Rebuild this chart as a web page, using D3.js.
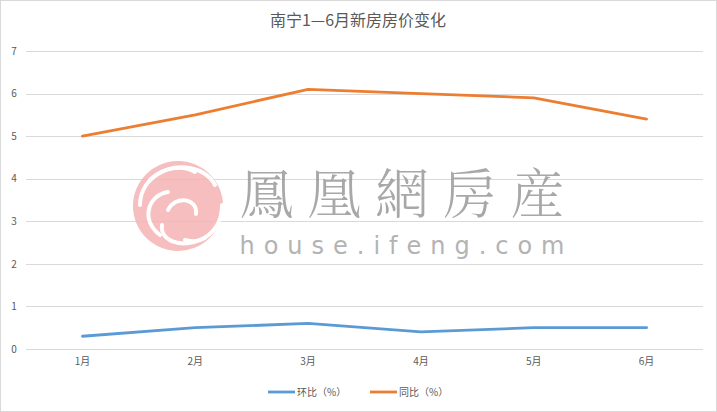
<!DOCTYPE html>
<html>
<head>
<meta charset="utf-8">
<script src="https://cdn.jsdelivr.net/npm/d3@7"></script>
<style>
  body { margin: 0; background: #fff; }
  svg { display: block; font-family: "Microsoft YaHei", "Noto Sans CJK SC", sans-serif; }
</style>
</head>
<body>
<script>
// chart data
const months = ["1月", "2月", "3月", "4月", "5月", "6月"];
const huanbi = [0.3, 0.5, 0.6, 0.4, 0.5, 0.5];
const tongbi = [5.0, 5.5, 6.1, 6.0, 5.9, 5.4];
const yTicks = [0, 1, 2, 3, 4, 5, 6, 7];
const seriesNames = ["环比（%）", "同比（%）"];
const seriesColors = ["#5b9bd5", "#ed7d31"];

const width = 717;
const height = 412;
const svg = d3.select("body").append("svg")
    .attr("width", width)
    .attr("height", height);

// outer border
svg.append("rect")
    .attr("x", 0.5).attr("y", 0.5)
    .attr("width", width - 1).attr("height", height - 1)
    .attr("fill", "#fff")
    .attr("stroke", "#d9d9d9");

// title
svg.append("text")
    .attr("x", 358).attr("y", 26)
    .attr("text-anchor", "middle")
    .attr("font-size", 16)
    .attr("fill", "#595959")
    .text("南宁1—6月新房房价变化");

// scales
const x = d3.scaleBand().domain(months).range([26, 703]);
const y = d3.scaleLinear().domain([0, 7]).range([349, 51]);

// gridlines
svg.append("g")
    .selectAll("line")
    .data(yTicks)
    .join("line")
    .attr("x1", 26).attr("x2", 703)
    .attr("y1", d => Math.round(y(d)) + 0.5)
    .attr("y2", d => Math.round(y(d)) + 0.5)
    .attr("stroke", "#d9d9d9");

// y axis labels
const yAxis = svg.append("g")
    .attr("transform", "translate(14,0)")
    .call(d3.axisLeft(y).tickValues(yTicks).tickFormat(d3.format("d")).tickSize(0).tickPadding(0));
yAxis.select(".domain").remove();
yAxis.selectAll("text")
    .attr("text-anchor", "middle")
    .attr("font-size", 10)
    .attr("fill", "#595959")
    .attr("font-family", "\"Noto Sans CJK SC\", sans-serif");

// x axis labels
const xAxis = svg.append("g")
    .attr("transform", "translate(0,357)")
    .call(d3.axisBottom(x).tickSize(0).tickPadding(0));
xAxis.select(".domain").remove();
xAxis.selectAll("text")
    .attr("dy", "0.75em")
    .attr("font-size", 10)
    .attr("fill", "#595959")
    .attr("font-family", "\"Noto Sans CJK SC\", sans-serif");

// lines
const line = d3.line()
    .x((d, i) => x(months[i]) + x.bandwidth() / 2)
    .y(d => y(d));

[huanbi, tongbi].forEach((vals, k) => {
    svg.append("path")
        .datum(vals)
        .attr("d", line)
        .attr("fill", "none")
        .attr("stroke", seriesColors[k])
        .attr("stroke-width", 2.8)
        .attr("stroke-linejoin", "round")
        .attr("stroke-linecap", "round");
});

// watermark
const wm = svg.append("g").attr("opacity", 0.85);
wm.append("circle")
    .attr("cx", 178).attr("cy", 206).attr("r", 45)
    .attr("fill", "#f5b3b3");
// rough swirl in the logo
const swirl = [
    "M150,180 C170,160 205,165 215,185",
    "M140,205 C140,175 175,160 195,172",
    "M160,235 C140,220 148,195 168,192",
    "M205,238 C180,250 160,240 162,225",
    "M222,205 C222,232 200,245 185,240",
    "M168,210 C175,195 198,198 196,214"
];
wm.selectAll("path.swirl")
    .data(swirl)
    .join("path")
    .attr("class", "swirl")
    .attr("d", d => d)
    .attr("fill", "none")
    .attr("stroke", "#fff")
    .attr("stroke-width", 4)
    .attr("stroke-linecap", "round");

wm.append("text")
    .attr("x", 402).attr("y", 214)
    .attr("text-anchor", "middle")
    .attr("font-size", 54)
    .attr("font-family", "\"Noto Serif CJK TC\", \"Noto Sans CJK TC\", serif")
    .attr("font-weight", 300)
    .attr("fill", "#9a9a9a")
    .attr("textLength", 325)
    .text("鳳凰網房産");

wm.append("text")
    .attr("x", 402).attr("y", 254)
    .attr("text-anchor", "middle")
    .attr("font-size", 24)
    .attr("font-family", "\"DejaVu Sans\", sans-serif")
    .attr("fill", "#a6a6a6")
    .attr("textLength", 325)
    .text("house.ifeng.com");

// legend
const legend = svg.append("g").attr("transform", "translate(268,392)");
const legendX = [0, 102];
seriesNames.forEach((name, k) => {
    const g = legend.append("g").attr("transform", `translate(${legendX[k]},0)`);
    g.append("line")
        .attr("x1", 0).attr("x2", 27)
        .attr("y1", 0).attr("y2", 0)
        .attr("stroke", seriesColors[k])
        .attr("stroke-width", 2.8);
    g.append("text")
        .attr("x", 29).attr("y", 0)
        .attr("dy", "0.35em")
        .attr("font-size", 10)
        .attr("fill", "#595959")
        .text(name);
});
</script>
</body>
</html>
